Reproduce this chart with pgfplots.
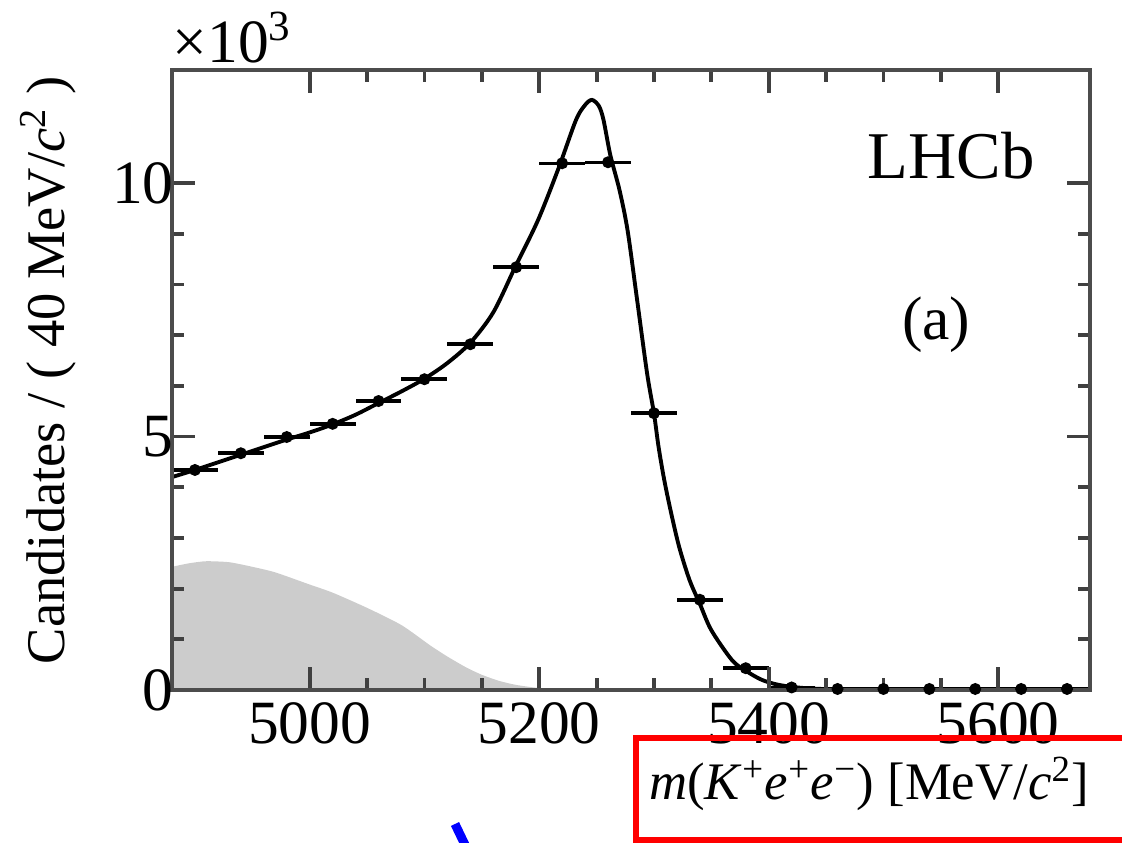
\documentclass[border=0pt]{standalone}
\usepackage{fontspec}
\setmainfont{Liberation Serif}
\usepackage{pgfplots}
\pgfplotsset{compat=1.18}
\newcommand\fs{\fontsize{17.5}{20}\selectfont}

\begin{document}
\begin{tikzpicture}
\path[use as bounding box, clip] (0,0) rectangle (11.22,8.43);
\begin{axis}[
    name=ax,
    at={(1.72cm,1.53cm)}, anchor=south west,
    scale only axis, width=9.18cm, height=6.20cm,
    xmin=4880, xmax=5680, ymin=0, ymax=12.23,
    xtick={5000,5200,5400,5600}, xticklabels={5000,5200,5400,5600},
    ytick={0,5,10}, yticklabels={0,5,10},
    minor x tick num=3, minor y tick num=4,
    tick align=inside, tick pos=both,
    major tick length=0.23cm, minor tick length=0.12cm,
    every tick/.style={black!75, line width=1.1pt},
    axis line style={black!70, line width=1.3pt},
    tick label style={font=\fs},
    yticklabel style={xshift=0.14cm},
    xlabel={\textit{m}(\textit{K}\textsuperscript{+}\textit{e}\textsuperscript{+}\textit{e}\textsuperscript{−}) [MeV/\textit{c}\textsuperscript{2}]},
    xlabel style={font=\fontsize{15}{18}\selectfont, at={(axis description cs:1,0)},
      anchor=base east, inner sep=0pt, yshift=-1.10cm},
    ylabel={Candidates / ( 40 MeV/\textit{c}\textsuperscript{2} )},
    ylabel style={font=\fontsize{15.5}{18}\selectfont,
      at={(axis description cs:-0.135,0.516)}, anchor=center},
    axis on top,
]
% background component (grey)
\addplot[draw=none, fill=gray!40, smooth, tension=0.4] coordinates {
 (4880,2.43) (4895,2.50) (4910,2.54) (4930,2.52) (4950,2.43) (4970,2.32)
 (5000,2.08) (5020,1.92) (5050,1.62) (5080,1.28) (5105,0.88) (5120,0.66)
 (5136,0.45) (5150,0.30) (5165,0.18) (5180,0.10) (5200,0.04) (5230,0.01)
 (5260,0)} \closedcycle;

% total fit
\addplot[black, line width=1.1pt, smooth, tension=0.5] coordinates {
 (4880,4.20) (4900,4.34) (4920,4.49) (4940,4.64) (4960,4.79) (4980,4.94)
 (5000,5.08) (5020,5.24) (5040,5.43) (5060,5.66) (5080,5.89) (5100,6.14)
 (5120,6.45) (5140,6.85) (5160,7.45) (5179,8.34) (5199,9.27) (5217,10.30)
 (5232,11.24) (5240,11.54) (5246,11.64) (5252,11.52) (5256,11.25)
 (5262,10.55) (5270,9.86) (5277,9.07) (5285,7.75) (5294,6.25) (5300,5.46)
 (5304,4.80) (5309,4.14) (5315,3.49) (5322,2.82) (5331,2.17) (5340,1.70)
 (5350,1.18) (5368,0.59) (5380,0.38) (5394,0.20) (5409,0.10) (5430,0.04)
 (5460,0.01) (5500,0.0) (5680,0.0)};

% data
\addplot[black, only marks, mark=*, mark size=1.5pt,
    error bars/.cd, x dir=both, x fixed=20, y dir=both, y explicit,
    error mark=none, error bar style={line width=1pt, black}]
coordinates {
 (4900,4.34) +- (0,0.066)
 (4940,4.67) +- (0,0.068)
 (4980,4.99) +- (0,0.071)
 (5020,5.25) +- (0,0.072)
 (5060,5.70) +- (0,0.075)
 (5100,6.13) +- (0,0.078)
 (5140,6.82) +- (0,0.083)
 (5180,8.34) +- (0,0.091)
 (5220,10.39) +- (0,0.102)
 (5260,10.41) +- (0,0.102)
 (5300,5.46) +- (0,0.074)
 (5340,1.78) +- (0,0.042)
 (5380,0.43) +- (0,0.021)
 (5420,0.05) +- (0,0.007)
 (5460,0.02) +- (0,0.004)
 (5500,0.02) +- (0,0.004)
 (5540,0.02) +- (0,0.004)
 (5580,0.02) +- (0,0.004)
 (5620,0.02) +- (0,0.004)
 (5660,0.02) +- (0,0.004)
};

\node[font=\fontsize{19}{22}\selectfont] at (axis cs:5559,10.55) {LHCb};
\node[font=\fs] at (axis cs:5546,7.2) {(a)};
\end{axis}
\node[font=\fs, anchor=base west, inner sep=0pt] at ([yshift=0.07cm]ax.north west)
  {×10\textsuperscript{3}};
% overlay marks on the reference
\draw[red, line width=0.06cm] (11.4,1.045) -| (6.355,0.03) -- (11.4,0.03);
\draw[blue, line width=0.09cm] (4.55,0.19) -- (4.67,-0.06);
\end{tikzpicture}
\end{document}
